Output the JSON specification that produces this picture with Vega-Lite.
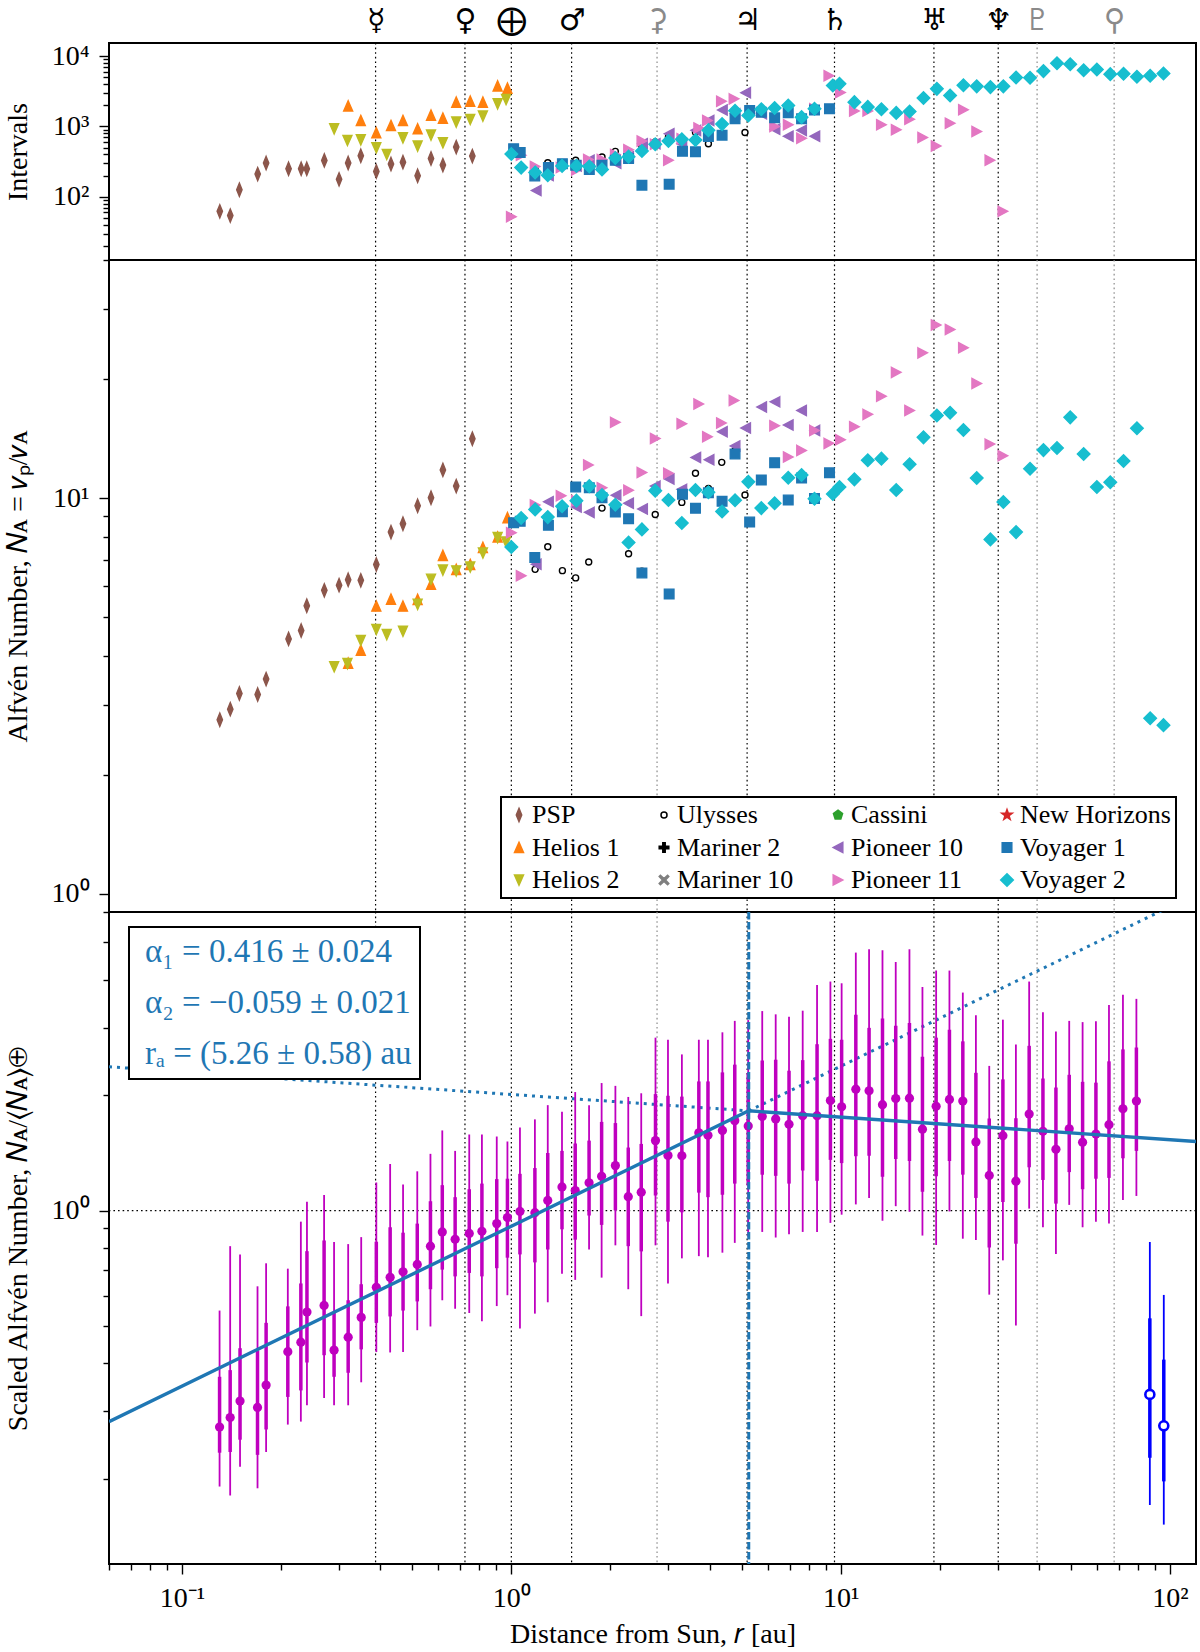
{"$schema":"https://vega.github.io/schema/vega-lite/v6.json","background":"white","padding":{"left":3,"top":4,"right":2,"bottom":5},"spacing":0,"bounds":"flush",
"resolve":{"scale":{"fill":"independent","stroke":"independent","shape":"independent","color":"independent"},"legend":{"fill":"independent","stroke":"independent","shape":"independent","color":"independent"}},
"config":{"view":{"stroke":"black","strokeWidth":2},"font":"Liberation Serif","axis":{"labelFont":"Liberation Serif","titleFont":"Liberation Serif","titleFontWeight":"normal","labelFontSize":28,"titleFontSize":28,"grid":false,"domain":false,"tickColor":"black","tickWidth":1.4,"labelColor":"black","titleColor":"black","labelOverlap":false,"labelBound":false,"labelFlush":false},"legend":{"labelFont":"Liberation Serif","titleFont":"Liberation Serif","strokeWidth":2}},
"datasets":{
"planets":[{"body":"Mercury","r":0.387,"kind":"planet"},{"body":"Venus","r":0.723,"kind":"planet"},{"body":"Earth","r":1,"kind":"planet"},{"body":"Mars","r":1.524,"kind":"planet"},{"body":"Jupiter","r":5.2,"kind":"planet"},{"body":"Saturn","r":9.58,"kind":"planet"},{"body":"Uranus","r":19.2,"kind":"planet"},{"body":"Neptune","r":30.1,"kind":"planet"}],
"dwarfs":[{"body":"Ceres","r":2.77,"kind":"dwarf"},{"body":"Pluto","r":39.5,"kind":"dwarf"},{"body":"Eris","r":67.7,"kind":"dwarf"}],
"scatter":[
{"s":"PSP","r":0.1302,"NA":2.756,"iv":62},{"s":"PSP","r":0.1401,"NA":2.93,"iv":54},{"s":"PSP","r":0.1493,"NA":3.21,"iv":126},{"s":"PSP","r":0.1697,"NA":3.19,"iv":210},{"s":"PSP","r":0.18,"NA":3.49,"iv":302},{"s":"PSP","r":0.2106,"NA":4.41,"iv":250},{"s":"PSP","r":0.23,"NA":4.63,"iv":250},{"s":"PSP","r":0.2392,"NA":5.35,"iv":250},{"s":"PSP","r":0.2704,"NA":5.85,"iv":329},{"s":"PSP","r":0.2998,"NA":6.03,"iv":177},{"s":"PSP","r":0.3195,"NA":6.22,"iv":302},{"s":"PSP","r":0.349,"NA":6.2,"iv":383},{"s":"PSP","r":0.389,"NA":6.8,"iv":229},{"s":"PSP","r":0.431,"NA":8.21,"iv":292},{"s":"PSP","r":0.4686,"NA":8.62,"iv":311},{"s":"PSP","r":0.5193,"NA":9.57,"iv":199},{"s":"PSP","r":0.5702,"NA":10.03,"iv":351},{"s":"PSP","r":0.6196,"NA":11.79,"iv":282},{"s":"PSP","r":0.6802,"NA":10.73,"iv":509},{"s":"PSP","r":0.7613,"NA":14.14,"iv":379},
{"s":"Helios 1","r":0.3195,"NA":3.83,"iv":1966},{"s":"Helios 1","r":0.349,"NA":4.13,"iv":1217},{"s":"Helios 1","r":0.389,"NA":5.34,"iv":813},{"s":"Helios 1","r":0.431,"NA":5.56,"iv":1033},{"s":"Helios 1","r":0.4686,"NA":5.34,"iv":1217},{"s":"Helios 1","r":0.5193,"NA":5.55,"iv":926},{"s":"Helios 1","r":0.5702,"NA":6.06,"iv":1449},{"s":"Helios 1","r":0.6196,"NA":7.17,"iv":1313},{"s":"Helios 1","r":0.6802,"NA":6.61,"iv":2217},{"s":"Helios 1","r":0.7502,"NA":6.8,"iv":2290},{"s":"Helios 1","r":0.8196,"NA":7.51,"iv":2217},{"s":"Helios 1","r":0.9085,"NA":7.98,"iv":3782},{"s":"Helios 1","r":0.9732,"NA":8.93,"iv":3503},
{"s":"Helios 2","r":0.2897,"NA":3.75,"iv":926},{"s":"Helios 2","r":0.3179,"NA":3.82,"iv":633},{"s":"Helios 2","r":0.349,"NA":4.37,"iv":646},{"s":"Helios 2","r":0.389,"NA":4.66,"iv":498},{"s":"Helios 2","r":0.4185,"NA":4.52,"iv":400},{"s":"Helios 2","r":0.4686,"NA":4.61,"iv":690},{"s":"Helios 2","r":0.5193,"NA":5.39,"iv":526},{"s":"Helios 2","r":0.5702,"NA":6.24,"iv":753},{"s":"Helios 2","r":0.6196,"NA":6.58,"iv":586},{"s":"Helios 2","r":0.6802,"NA":6.55,"iv":1152},{"s":"Helios 2","r":0.7502,"NA":6.7,"iv":1257},{"s":"Helios 2","r":0.8196,"NA":7.27,"iv":1402},{"s":"Helios 2","r":0.9085,"NA":7.95,"iv":2099},{"s":"Helios 2","r":0.9636,"NA":7.75,"iv":2418},
{"s":"Ulysses","r":1.181,"NA":6.61,"iv":250},{"s":"Ulysses","r":1.29,"NA":7.54,"iv":305},{"s":"Ulysses","r":1.429,"NA":6.56,"iv":280},{"s":"Ulysses","r":1.568,"NA":6.29,"iv":330},{"s":"Ulysses","r":1.718,"NA":6.9,"iv":270},{"s":"Ulysses","r":1.885,"NA":9.44,"iv":368},{"s":"Ulysses","r":2.069,"NA":9.6,"iv":443},{"s":"Ulysses","r":2.27,"NA":7.24,"iv":400},{"s":"Ulysses","r":2.492,"NA":6.54,"iv":525},{"s":"Ulysses","r":2.735,"NA":9.1,"iv":600},{"s":"Ulysses","r":3.0,"NA":9.9,"iv":707},{"s":"Ulysses","r":3.294,"NA":9.76,"iv":640},{"s":"Ulysses","r":3.624,"NA":11.56,"iv":830},{"s":"Ulysses","r":3.967,"NA":10.59,"iv":568},{"s":"Ulysses","r":4.355,"NA":12.32,"iv":1090},{"s":"Ulysses","r":4.779,"NA":13.2,"iv":1400},{"s":"Ulysses","r":5.123,"NA":10.19,"iv":820},
{"s":"Pioneer 10","r":1.19,"NA":6.81,"iv":123},{"s":"Pioneer 10","r":1.296,"NA":9.8,"iv":200},{"s":"Pioneer 10","r":1.576,"NA":9.5,"iv":275},{"s":"Pioneer 10","r":1.725,"NA":9.21,"iv":330},{"s":"Pioneer 10","r":2.079,"NA":10.17,"iv":300},{"s":"Pioneer 10","r":2.27,"NA":9.71,"iv":370},{"s":"Pioneer 10","r":2.503,"NA":9.39,"iv":568},{"s":"Pioneer 10","r":2.735,"NA":10.73,"iv":568},{"s":"Pioneer 10","r":3.015,"NA":11.18,"iv":788},{"s":"Pioneer 10","r":3.294,"NA":10.53,"iv":568},{"s":"Pioneer 10","r":3.632,"NA":12.68,"iv":880},{"s":"Pioneer 10","r":3.985,"NA":12.51,"iv":1218},{"s":"Pioneer 10","r":4.374,"NA":14.72,"iv":1720},{"s":"Pioneer 10","r":4.779,"NA":13.55,"iv":1515},{"s":"Pioneer 10","r":5.147,"NA":15.04,"iv":3030},{"s":"Pioneer 10","r":5.757,"NA":17.0,"iv":1515},{"s":"Pioneer 10","r":6.318,"NA":17.52,"iv":915},{"s":"Pioneer 10","r":6.933,"NA":15.31,"iv":725},{"s":"Pioneer 10","r":7.61,"NA":16.67,"iv":880},{"s":"Pioneer 10","r":8.35,"NA":14.84,"iv":725},
{"s":"Pioneer 11","r":1.0,"NA":8.18,"iv":52},{"s":"Pioneer 11","r":1.071,"NA":6.37,"iv":390},{"s":"Pioneer 11","r":1.181,"NA":9.61,"iv":270},{"s":"Pioneer 11","r":1.416,"NA":10.15,"iv":260},{"s":"Pioneer 11","r":1.576,"NA":9.86,"iv":240},{"s":"Pioneer 11","r":1.714,"NA":12.13,"iv":338},{"s":"Pioneer 11","r":1.885,"NA":10.63,"iv":338},{"s":"Pioneer 11","r":2.069,"NA":15.55,"iv":400},{"s":"Pioneer 11","r":2.27,"NA":10.47,"iv":467},{"s":"Pioneer 11","r":2.492,"NA":11.61,"iv":620},{"s":"Pioneer 11","r":2.735,"NA":14.16,"iv":558},{"s":"Pioneer 11","r":3.0,"NA":11.56,"iv":330},{"s":"Pioneer 11","r":3.294,"NA":15.43,"iv":670},{"s":"Pioneer 11","r":3.707,"NA":17.3,"iv":950},{"s":"Pioneer 11","r":3.94,"NA":14.3,"iv":1218},{"s":"Pioneer 11","r":4.345,"NA":15.5,"iv":2280},{"s":"Pioneer 11","r":4.745,"NA":17.65,"iv":2470},{"s":"Pioneer 11","r":6.303,"NA":15.25,"iv":1000},{"s":"Pioneer 11","r":6.933,"NA":12.71,"iv":1055},{"s":"Pioneer 11","r":7.61,"NA":13.21,"iv":680},{"s":"Pioneer 11","r":8.33,"NA":14.84,"iv":1785},{"s":"Pioneer 11","r":9.21,"NA":13.76,"iv":5270},{"s":"Pioneer 11","r":9.99,"NA":14.06,"iv":3050},{"s":"Pioneer 11","r":11.01,"NA":15.16,"iv":1660},{"s":"Pioneer 11","r":12.09,"NA":16.29,"iv":1660},{"s":"Pioneer 11","r":13.3,"NA":18.1,"iv":1055},{"s":"Pioneer 11","r":14.75,"NA":20.8,"iv":897},{"s":"Pioneer 11","r":16.2,"NA":16.67,"iv":1272},{"s":"Pioneer 11","r":17.75,"NA":23.3,"iv":698},{"s":"Pioneer 11","r":19.5,"NA":27.4,"iv":526},{"s":"Pioneer 11","r":21.5,"NA":26.7,"iv":1115},{"s":"Pioneer 11","r":23.6,"NA":24.0,"iv":1725},{"s":"Pioneer 11","r":25.9,"NA":19.5,"iv":849},{"s":"Pioneer 11","r":28.4,"NA":13.7,"iv":332},{"s":"Pioneer 11","r":31.1,"NA":12.8,"iv":62},
{"s":"Voyager 1","r":1.016,"NA":8.67,"iv":483},{"s":"Voyager 1","r":1.064,"NA":8.74,"iv":428},{"s":"Voyager 1","r":1.178,"NA":7.08,"iv":197},{"s":"Voyager 1","r":1.296,"NA":8.54,"iv":260},{"s":"Voyager 1","r":1.429,"NA":9.24,"iv":296},{"s":"Voyager 1","r":1.568,"NA":10.67,"iv":281},{"s":"Voyager 1","r":1.725,"NA":10.63,"iv":245},{"s":"Voyager 1","r":1.885,"NA":10.03,"iv":281},{"s":"Voyager 1","r":2.069,"NA":9.23,"iv":330},{"s":"Voyager 1","r":2.27,"NA":8.88,"iv":349},{"s":"Voyager 1","r":2.492,"NA":6.47,"iv":146},{"s":"Voyager 1","r":3.015,"NA":5.73,"iv":151},{"s":"Voyager 1","r":3.309,"NA":10.23,"iv":443},{"s":"Voyager 1","r":3.624,"NA":9.43,"iv":438},{"s":"Voyager 1","r":3.967,"NA":10.33,"iv":722},{"s":"Voyager 1","r":4.365,"NA":9.82,"iv":750},{"s":"Voyager 1","r":4.779,"NA":12.93,"iv":1285},{"s":"Voyager 1","r":5.293,"NA":8.71,"iv":1689},{"s":"Voyager 1","r":5.743,"NA":11.12,"iv":1590},{"s":"Voyager 1","r":6.303,"NA":12.3,"iv":1330},{"s":"Voyager 1","r":6.933,"NA":9.9,"iv":1570},{"s":"Voyager 1","r":7.61,"NA":11.25,"iv":1285},{"s":"Voyager 1","r":8.33,"NA":9.99,"iv":1720},{"s":"Voyager 1","r":9.25,"NA":11.6,"iv":1790},
{"s":"Voyager 2","r":1.0,"NA":7.53,"iv":405},{"s":"Voyager 2","r":1.071,"NA":8.91,"iv":260},{"s":"Voyager 2","r":1.181,"NA":9.37,"iv":222},{"s":"Voyager 2","r":1.29,"NA":8.96,"iv":202},{"s":"Voyager 2","r":1.426,"NA":9.54,"iv":275},{"s":"Voyager 2","r":1.576,"NA":9.86,"iv":275},{"s":"Voyager 2","r":1.725,"NA":10.73,"iv":270},{"s":"Voyager 2","r":1.885,"NA":10.19,"iv":245},{"s":"Voyager 2","r":2.069,"NA":9.63,"iv":356},{"s":"Voyager 2","r":2.27,"NA":7.73,"iv":372},{"s":"Voyager 2","r":2.492,"NA":8.34,"iv":448},{"s":"Voyager 2","r":2.735,"NA":10.45,"iv":558},{"s":"Voyager 2","r":3.0,"NA":9.9,"iv":620},{"s":"Voyager 2","r":3.294,"NA":8.66,"iv":657},{"s":"Voyager 2","r":3.624,"NA":10.49,"iv":643},{"s":"Voyager 2","r":3.967,"NA":10.35,"iv":887},{"s":"Voyager 2","r":4.365,"NA":9.26,"iv":1080},{"s":"Voyager 2","r":4.779,"NA":9.88,"iv":1670},{"s":"Voyager 2","r":5.245,"NA":11.0,"iv":1435},{"s":"Voyager 2","r":5.743,"NA":9.44,"iv":1760},{"s":"Voyager 2","r":6.303,"NA":9.71,"iv":1830},{"s":"Voyager 2","r":6.933,"NA":11.27,"iv":1990},{"s":"Voyager 2","r":7.61,"NA":11.45,"iv":1358},{"s":"Voyager 2","r":8.33,"NA":9.97,"iv":1785},{"s":"Voyager 2","r":9.47,"NA":10.25,"iv":3820},{"s":"Voyager 2","r":9.92,"NA":10.67,"iv":4037},{"s":"Voyager 2","r":11.01,"NA":11.16,"iv":2220},{"s":"Voyager 2","r":12.09,"NA":12.47,"iv":1900},{"s":"Voyager 2","r":13.3,"NA":12.59,"iv":1760},{"s":"Voyager 2","r":14.75,"NA":10.49,"iv":1560},{"s":"Voyager 2","r":16.2,"NA":12.18,"iv":1630},{"s":"Voyager 2","r":17.85,"NA":14.25,"iv":2545},{"s":"Voyager 2","r":19.6,"NA":16.19,"iv":3430},{"s":"Voyager 2","r":21.5,"NA":16.45,"iv":2760},{"s":"Voyager 2","r":23.6,"NA":14.87,"iv":3850},{"s":"Voyager 2","r":25.9,"NA":11.25,"iv":3720},{"s":"Voyager 2","r":28.5,"NA":7.87,"iv":3630},{"s":"Voyager 2","r":31.2,"NA":9.78,"iv":3720},{"s":"Voyager 2","r":34.1,"NA":8.21,"iv":4980},{"s":"Voyager 2","r":37.6,"NA":11.87,"iv":4925},{"s":"Voyager 2","r":41.3,"NA":13.23,"iv":6130},{"s":"Voyager 2","r":45.4,"NA":13.39,"iv":7940},{"s":"Voyager 2","r":49.8,"NA":16.01,"iv":7690},{"s":"Voyager 2","r":54.7,"NA":12.93,"iv":6320},{"s":"Voyager 2","r":60.0,"NA":10.67,"iv":6460},{"s":"Voyager 2","r":65.9,"NA":10.97,"iv":5550},{"s":"Voyager 2","r":72.3,"NA":12.42,"iv":5610},{"s":"Voyager 2","r":79.4,"NA":15.02,"iv":5090},{"s":"Voyager 2","r":87.1,"NA":2.78,"iv":5260},{"s":"Voyager 2","r":95.6,"NA":2.67,"iv":5670}],
"bins":[
{"r":0.13,"n":0.273,"a":0.191,"b":0.549,"c":0.234,"d":0.369},{"r":0.14,"n":0.289,"a":0.181,"b":0.808,"c":0.235,"d":0.384},{"r":0.15,"n":0.319,"a":0.215,"b":0.769,"c":0.253,"d":0.438},{"r":0.1695,"n":0.307,"a":0.189,"b":0.635,"c":0.231,"d":0.432},{"r":0.18,"n":0.351,"a":0.235,"b":0.729,"c":0.269,"d":0.51},{"r":0.2095,"n":0.429,"a":0.277,"b":0.706,"c":0.327,"d":0.563},{"r":0.2295,"n":0.454,"a":0.282,"b":0.936,"c":0.34,"d":0.646},{"r":0.2395,"n":0.544,"a":0.311,"b":1.055,"c":0.402,"d":0.784},{"r":0.27,"n":0.566,"a":0.325,"b":1.098,"c":0.42,"d":0.836},{"r":0.2895,"n":0.433,"a":0.311,"b":0.828,"c":0.369,"d":0.545},{"r":0.3195,"n":0.468,"a":0.311,"b":0.818,"c":0.378,"d":0.584},{"r":0.35,"n":0.527,"a":0.357,"b":0.853,"c":0.435,"d":0.643},{"r":0.389,"n":0.631,"a":0.428,"b":1.184,"c":0.51,"d":0.83},{"r":0.4285,"n":0.67,"a":0.427,"b":1.323,"c":0.53,"d":0.905},{"r":0.469,"n":0.693,"a":0.428,"b":1.17,"c":0.549,"d":0.876},{"r":0.518,"n":0.724,"a":0.488,"b":1.266,"c":0.58,"d":0.925},{"r":0.568,"n":0.808,"a":0.499,"b":1.406,"c":0.624,"d":1.058},{"r":0.617,"n":0.88,"a":0.584,"b":1.618,"c":0.702,"d":1.165},{"r":0.675,"n":0.842,"a":0.555,"b":1.431,"c":0.674,"d":1.084},{"r":0.745,"n":0.872,"a":0.541,"b":1.579,"c":0.688,"d":1.137},{"r":0.814,"n":0.883,"a":0.515,"b":1.579,"c":0.674,"d":1.176},{"r":0.903,"n":0.925,"a":0.564,"b":1.56,"c":0.708,"d":1.208},{"r":0.973,"n":0.959,"a":0.602,"b":1.514,"c":0.754,"d":1.211},{"r":1.062,"n":0.995,"a":0.493,"b":1.646,"c":0.769,"d":1.247},{"r":1.179,"n":0.988,"a":0.539,"b":1.729,"c":0.733,"d":1.291},{"r":1.29,"n":1.063,"a":0.577,"b":1.883,"c":0.792,"d":1.413},{"r":1.425,"n":1.153,"a":0.685,"b":1.811,"c":0.894,"d":1.431},{"r":1.563,"n":1.128,"a":0.66,"b":2.037,"c":0.84,"d":1.496},{"r":1.722,"n":1.182,"a":0.792,"b":1.883,"c":0.971,"d":1.522},{"r":1.88,"n":1.229,"a":0.669,"b":2.15,"c":0.918,"d":1.703},{"r":2.07,"n":1.31,"a":0.812,"b":2.114,"c":1.002,"d":1.691},{"r":2.265,"n":1.087,"a":0.624,"b":1.978,"c":0.808,"d":1.46},{"r":2.48,"n":1.117,"a":0.531,"b":2.022,"c":0.783,"d":1.492},{"r":2.74,"n":1.522,"a":0.812,"b":2.823,"c":1.095,"d":2.012},{"r":2.99,"n":1.393,"a":0.646,"b":2.788,"c":0.936,"d":1.992},{"r":3.295,"n":1.39,"a":0.751,"b":2.553,"c":0.99,"d":1.982},{"r":3.71,"n":1.595,"a":0.761,"b":2.788,"c":1.114,"d":2.171},{"r":3.955,"n":1.571,"a":0.756,"b":2.788,"c":1.084,"d":2.171},{"r":4.375,"n":1.618,"a":0.777,"b":2.915,"c":1.1,"d":2.292},{"r":4.77,"n":1.716,"a":0.824,"b":3.122,"c":1.176,"d":2.401},{"r":5.24,"n":1.662,"a":0.855,"b":3.137,"c":1.162,"d":2.281},{"r":5.78,"n":1.758,"a":0.88,"b":3.311,"c":1.241,"d":2.461},{"r":6.35,"n":1.733,"a":0.851,"b":3.247,"c":1.232,"d":2.473},{"r":6.97,"n":1.678,"a":0.868,"b":3.199,"c":1.176,"d":2.315},{"r":7.67,"n":1.768,"a":0.88,"b":3.319,"c":1.272,"d":2.467},{"r":8.48,"n":1.768,"a":0.88,"b":3.873,"c":1.196,"d":2.714},{"r":9.31,"n":1.935,"a":0.929,"b":3.953,"c":1.356,"d":2.803},{"r":10.07,"n":1.865,"a":0.976,"b":3.912,"c":1.33,"d":2.788},{"r":11.12,"n":2.072,"a":1.038,"b":4.703,"c":1.386,"d":3.239},{"r":12.2,"n":2.052,"a":1.079,"b":4.796,"c":1.39,"d":2.994},{"r":13.4,"n":1.888,"a":0.941,"b":4.773,"c":1.226,"d":3.168},{"r":14.7,"n":1.959,"a":1.027,"b":4.445,"c":1.363,"d":3.031},{"r":16.18,"n":1.963,"a":0.993,"b":4.796,"c":1.346,"d":3.084},{"r":17.72,"n":1.63,"a":0.861,"b":3.826,"c":1.12,"d":2.516},{"r":19.5,"n":1.87,"a":0.814,"b":4.222,"c":1.229,"d":2.823},{"r":21.4,"n":1.949,"a":0.995,"b":4.222,"c":1.346,"d":2.958},{"r":23.5,"n":1.93,"a":0.845,"b":3.7,"c":1.241,"d":2.761},{"r":25.75,"n":1.51,"a":0.838,"b":3.231,"c":1.079,"d":2.286},{"r":28.27,"n":1.235,"a":0.604,"b":2.383,"c":0.802,"d":1.737},{"r":31.1,"n":1.568,"a":0.742,"b":3.145,"c":1.053,"d":2.198},{"r":34.06,"n":1.193,"a":0.502,"b":2.708,"c":0.82,"d":1.741},{"r":37.37,"n":1.785,"a":1.012,"b":3.953,"c":1.297,"d":2.688},{"r":41.15,"n":1.61,"a":0.905,"b":3.287,"c":1.202,"d":2.209},{"r":45.06,"n":1.445,"a":0.771,"b":2.93,"c":1.043,"d":2.093},{"r":49.45,"n":1.634,"a":1.035,"b":3.122,"c":1.26,"d":2.259},{"r":54.3,"n":1.507,"a":0.905,"b":3.099,"c":1.137,"d":2.166},{"r":59.6,"n":1.583,"a":0.936,"b":3.114,"c":1.211,"d":2.155},{"r":65.3,"n":1.675,"a":0.925,"b":3.435,"c":1.217,"d":2.449},{"r":72.0,"n":1.842,"a":1.066,"b":3.653,"c":1.369,"d":2.631},{"r":79.1,"n":1.93,"a":1.092,"b":3.563,"c":1.431,"d":2.661}],
"outer":[{"r":86.9,"n":0.332,"a":0.171,"b":0.828,"c":0.227,"d":0.524},{"r":95.8,"n":0.275,"a":0.152,"b":0.603,"c":0.197,"d":0.409}],
"fit":[{"r":0.06,"n":0.282},{"r":5.26,"n":1.82},{"r":120,"n":1.514}],
"fitdot1":[{"r":5.26,"n":1.82},{"r":120,"n":6.68}],
"fitdot2":[{"r":0.06,"n":2.37},{"r":5.26,"n":1.82}],
"ra":[{"r":5.26}],
"unity":[{"n":1}],
"stats":[{"t":"α₁ = 0.416 ± 0.024"},{"t":"α₂ = −0.059 ± 0.021"},{"t":"rₐ = (5.26 ± 0.58) au"}]
},
"vconcat":[
{"width":1087,"height":217,"layer":[
{"data":{"name":"planets"},"mark":{"type":"rule","color":"black","strokeWidth":1.2,"strokeDash":[1.6,3]},"encoding":{"x":{"field":"r","type":"quantitative","scale":{"type":"log","domain":[0.06,120]},"axis":{"orient":"top","title":null,"ticks":false,"values":[0.387,0.723,1,1.524,2.77,5.2,9.58,19.2,30.1,39.5,67.7],"labelFont":"DejaVu Sans","labelFontSize":30,"labelPadding":8,"labelExpr":"datum.value<0.5?'☿':datum.value<0.9?'♀':datum.value<1.2?'⨁':datum.value<2?'♂':datum.value<3?'⚳':datum.value<6?'♃':datum.value<10?'♄':datum.value<20?'♅':datum.value<35?'♆':datum.value<50?'♇':'⚲'","labelColor":{"expr":"(datum.value>2&&datum.value<3)||datum.value>35?'#8a8a8a':'black'"}}}}},
{"data":{"name":"dwarfs"},"mark":{"type":"rule","color":"#8a8a8a","strokeWidth":1.2,"strokeDash":[1.6,3]},"encoding":{"x":{"field":"r","type":"quantitative","scale":{"type":"log","domain":[0.06,120]}}}},
{"data":{"name":"scatter"},"mark":{"type":"point","opacity":1,"strokeWidth":1.4,"size":144},"encoding":{
"x":{"field":"r","type":"quantitative","scale":{"type":"log","domain":[0.06,120]}},
"y":{"field":"iv","type":"quantitative","scale":{"type":"log","domain":[12.6,15400]},"axis":{"title":"Intervals","titleX":-76.5,"values":[20,30,40,50,60,70,80,90,100,200,300,400,500,600,700,800,900,1000,2000,3000,4000,5000,6000,7000,8000,9000,10000],"labelExpr":"datum.value==10000?'10⁴':datum.value==1000?'10³':datum.value==100?'10²':''","labelPadding":10,"tickSize":{"condition":{"test":"datum.value==100||datum.value==1000||datum.value==10000","value":10},"value":6}}},
"fill":{"field":"s","type":"nominal","legend":null,"scale":{"domain":["PSP","Helios 1","Helios 2","Ulysses","Mariner 2","Mariner 10","Cassini","Pioneer 10","Pioneer 11","New Horizons","Voyager 1","Voyager 2"],"range":["#8c564b","#ff7f0e","#bcbd22","#ffffff","#000000","#7f7f7f","#2ca02c","#9467bd","#e377c2","#d62728","#1f77b4","#17becf"]}},
"stroke":{"field":"s","type":"nominal","legend":null,"scale":{"domain":["PSP","Helios 1","Helios 2","Ulysses","Mariner 2","Mariner 10","Cassini","Pioneer 10","Pioneer 11","New Horizons","Voyager 1","Voyager 2"],"range":["#8c564b","#ff7f0e","#bcbd22","#000000","#000000","#7f7f7f","#2ca02c","#9467bd","#e377c2","#d62728","#1f77b4","#17becf"]}},
"shape":{"field":"s","type":"nominal","legend":null,"scale":{"domain":["PSP","Helios 1","Helios 2","Ulysses","Mariner 2","Mariner 10","Cassini","Pioneer 10","Pioneer 11","New Horizons","Voyager 1","Voyager 2"],"range":["M0,-1.1L0.45,0L0,1.1L-0.45,0Z","M0,-0.85L0.75,0.85L-0.75,0.85Z","M0,0.85L0.75,-0.85L-0.75,-0.85Z","M-0.5,0A0.5,0.5 0 1,0 0.5,0A0.5,0.5 0 1,0 -0.5,0Z","M-0.2,-0.8H0.2V-0.2H0.8V0.2H0.2V0.8H-0.2V0.2H-0.8V-0.2H-0.2Z","M-0.6,-0.8L0,-0.25L0.6,-0.8L0.8,-0.6L0.25,0L0.8,0.6L0.6,0.8L0,0.25L-0.6,0.8L-0.8,0.6L-0.25,0L-0.8,-0.6Z","M0,-0.8L0.76,-0.25L0.47,0.65L-0.47,0.65L-0.76,-0.25Z","M0.8,-0.85L-0.8,0L0.8,0.85Z","M-0.8,-0.85L0.8,0L-0.8,0.85Z","M0,-0.9L0.22,-0.28L0.86,-0.28L0.34,0.1L0.53,0.72L0,0.35L-0.53,0.72L-0.34,0.1L-0.86,-0.28L-0.22,-0.28Z","M-0.8,-0.8H0.8V0.8H-0.8Z","M0,-1.05L1.05,0L0,1.05L-1.05,0Z"]}}}}
]},
{"width":1087,"height":652,"layer":[
{"data":{"name":"planets"},"mark":{"type":"rule","color":"black","strokeWidth":1.2,"strokeDash":[1.6,3]},"encoding":{"x":{"field":"r","type":"quantitative","scale":{"type":"log","domain":[0.06,120]},"axis":null}}},
{"data":{"name":"dwarfs"},"mark":{"type":"rule","color":"#8a8a8a","strokeWidth":1.2,"strokeDash":[1.6,3]},"encoding":{"x":{"field":"r","type":"quantitative","scale":{"type":"log","domain":[0.06,120]},"axis":null}}},
{"data":{"name":"scatter"},"mark":{"type":"point","opacity":1,"strokeWidth":1.4,"size":144},"encoding":{
"x":{"field":"r","type":"quantitative","scale":{"type":"log","domain":[0.06,120]},"axis":null},
"y":{"field":"NA","type":"quantitative","scale":{"type":"log","domain":[0.9,40]},"axis":{"title":"Alfvén Number, 𝑁ᴀ = 𝑣ₚ/𝑣ᴀ","titleX":-76.5,"values":[0.9,1,2,3,4,5,6,7,8,9,10,20,30,40],"labelExpr":"datum.value==10?'10¹':datum.value==1?'10⁰':''","labelPadding":10,"tickSize":{"condition":{"test":"datum.value==1||datum.value==10","value":10},"value":6}}},
"fill":{"field":"s","type":"nominal","legend":{"title":null,"orient":"none","legendX":392,"legendY":537,"columns":4,"fillColor":"white","strokeColor":"black","padding":5,"labelFontSize":26,"labelColor":"black","symbolSize":144,"rowPadding":6.5,"columnPadding":31,"labelOffset":0,"symbolOpacity":1,"labelLimit":200},"scale":{"domain":["PSP","Helios 1","Helios 2","Ulysses","Mariner 2","Mariner 10","Cassini","Pioneer 10","Pioneer 11","New Horizons","Voyager 1","Voyager 2"],"range":["#8c564b","#ff7f0e","#bcbd22","#ffffff","#000000","#7f7f7f","#2ca02c","#9467bd","#e377c2","#d62728","#1f77b4","#17becf"]}},
"stroke":{"field":"s","type":"nominal","scale":{"domain":["PSP","Helios 1","Helios 2","Ulysses","Mariner 2","Mariner 10","Cassini","Pioneer 10","Pioneer 11","New Horizons","Voyager 1","Voyager 2"],"range":["#8c564b","#ff7f0e","#bcbd22","#000000","#000000","#7f7f7f","#2ca02c","#9467bd","#e377c2","#d62728","#1f77b4","#17becf"]}},
"shape":{"field":"s","type":"nominal","scale":{"domain":["PSP","Helios 1","Helios 2","Ulysses","Mariner 2","Mariner 10","Cassini","Pioneer 10","Pioneer 11","New Horizons","Voyager 1","Voyager 2"],"range":["M0,-1.1L0.45,0L0,1.1L-0.45,0Z","M0,-0.85L0.75,0.85L-0.75,0.85Z","M0,0.85L0.75,-0.85L-0.75,-0.85Z","M-0.5,0A0.5,0.5 0 1,0 0.5,0A0.5,0.5 0 1,0 -0.5,0Z","M-0.2,-0.8H0.2V-0.2H0.8V0.2H0.2V0.8H-0.2V0.2H-0.8V-0.2H-0.2Z","M-0.6,-0.8L0,-0.25L0.6,-0.8L0.8,-0.6L0.25,0L0.8,0.6L0.6,0.8L0,0.25L-0.6,0.8L-0.8,0.6L-0.25,0L-0.8,-0.6Z","M0,-0.8L0.76,-0.25L0.47,0.65L-0.47,0.65L-0.76,-0.25Z","M0.8,-0.85L-0.8,0L0.8,0.85Z","M-0.8,-0.85L0.8,0L-0.8,0.85Z","M0,-0.9L0.22,-0.28L0.86,-0.28L0.34,0.1L0.53,0.72L0,0.35L-0.53,0.72L-0.34,0.1L-0.86,-0.28L-0.22,-0.28Z","M-0.8,-0.8H0.8V0.8H-0.8Z","M0,-1.05L1.05,0L0,1.05L-1.05,0Z"]}}}}
]},
{"width":1087,"height":652,"layer":[
{"data":{"name":"planets"},"mark":{"type":"rule","color":"black","strokeWidth":1.2,"strokeDash":[1.6,3]},"encoding":{"x":{"field":"r","type":"quantitative","scale":{"type":"log","domain":[0.06,120]},"axis":{"title":"Distance from Sun, 𝑟 [au]","values":[0.06,0.07,0.08,0.09,0.1,0.2,0.3,0.4,0.5,0.6,0.7,0.8,0.9,1,2,3,4,5,6,7,8,9,10,20,30,40,50,60,70,80,90,100],"labelExpr":"datum.value==0.1?'10⁻¹':datum.value==1?'10⁰':datum.value==10?'10¹':datum.value==100?'10²':''","labelPadding":10,"titlePadding":8,"tickSize":{"condition":{"test":"datum.value==0.1||datum.value==1||datum.value==10||datum.value==100","value":10},"value":6}}}}},
{"data":{"name":"dwarfs"},"mark":{"type":"rule","color":"#8a8a8a","strokeWidth":1.2,"strokeDash":[1.6,3]},"encoding":{"x":{"field":"r","type":"quantitative","scale":{"type":"log","domain":[0.06,120]}}}},
{"data":{"name":"unity"},"mark":{"type":"rule","color":"black","strokeWidth":1.2,"strokeDash":[1.6,3]},"encoding":{"y":{"field":"n","type":"quantitative","scale":{"type":"log","domain":[0.12,6]},"axis":{"title":"Scaled Alfvén Number, 𝑁ᴀ/⟨𝑁ᴀ⟩⊕","titleX":-76.5,"values":[0.2,0.3,0.4,0.5,0.6,0.7,0.8,0.9,1,2,3,4,5],"labelExpr":"datum.value==1?'10⁰':''","labelPadding":10,"tickSize":{"condition":{"test":"datum.value==1","value":10},"value":6}}}}},
{"data":{"name":"fitdot1"},"mark":{"type":"line","color":"#1f77b4","strokeWidth":3,"strokeDash":[3,5],"clip":true},"encoding":{"x":{"field":"r","type":"quantitative","scale":{"type":"log","domain":[0.06,120]}},"y":{"field":"n","type":"quantitative","scale":{"type":"log","domain":[0.12,6]}}}},
{"data":{"name":"fitdot2"},"mark":{"type":"line","color":"#1f77b4","strokeWidth":3,"strokeDash":[3,5],"clip":true},"encoding":{"x":{"field":"r","type":"quantitative","scale":{"type":"log","domain":[0.06,120]}},"y":{"field":"n","type":"quantitative","scale":{"type":"log","domain":[0.12,6]}}}},
{"data":{"name":"bins"},"mark":{"type":"rule","color":"#bf00bf","strokeWidth":1.8},"encoding":{"x":{"field":"r","type":"quantitative","scale":{"type":"log","domain":[0.06,120]}},"y":{"field":"a","type":"quantitative","scale":{"type":"log","domain":[0.12,6]}},"y2":{"field":"b"}}},
{"data":{"name":"bins"},"mark":{"type":"rule","color":"#bf00bf","strokeWidth":3.5},"encoding":{"x":{"field":"r","type":"quantitative","scale":{"type":"log","domain":[0.06,120]}},"y":{"field":"c","type":"quantitative","scale":{"type":"log","domain":[0.12,6]}},"y2":{"field":"d"}}},
{"data":{"name":"bins"},"mark":{"type":"point","filled":true,"opacity":1,"color":"#bf00bf","size":85},"encoding":{"x":{"field":"r","type":"quantitative","scale":{"type":"log","domain":[0.06,120]}},"y":{"field":"n","type":"quantitative","scale":{"type":"log","domain":[0.12,6]}}}},
{"data":{"name":"outer"},"mark":{"type":"rule","color":"#0000ff","strokeWidth":1.8},"encoding":{"x":{"field":"r","type":"quantitative","scale":{"type":"log","domain":[0.06,120]}},"y":{"field":"a","type":"quantitative","scale":{"type":"log","domain":[0.12,6]}},"y2":{"field":"b"}}},
{"data":{"name":"outer"},"mark":{"type":"rule","color":"#0000ff","strokeWidth":3.5},"encoding":{"x":{"field":"r","type":"quantitative","scale":{"type":"log","domain":[0.06,120]}},"y":{"field":"c","type":"quantitative","scale":{"type":"log","domain":[0.12,6]}},"y2":{"field":"d"}}},
{"data":{"name":"outer"},"mark":{"type":"point","filled":false,"opacity":1,"fill":"white","stroke":"#0000ff","strokeWidth":2.6,"size":81},"encoding":{"x":{"field":"r","type":"quantitative","scale":{"type":"log","domain":[0.06,120]}},"y":{"field":"n","type":"quantitative","scale":{"type":"log","domain":[0.12,6]}}}},
{"data":{"name":"fit"},"mark":{"type":"line","color":"#1f77b4","strokeWidth":3.4,"clip":true},"encoding":{"x":{"field":"r","type":"quantitative","scale":{"type":"log","domain":[0.06,120]}},"y":{"field":"n","type":"quantitative","scale":{"type":"log","domain":[0.12,6]}}}},
{"data":{"name":"ra"},"mark":{"type":"rule","color":"#1f77b4","strokeWidth":3,"strokeDash":[7.5,2.5]},"encoding":{"x":{"field":"r","type":"quantitative","scale":{"type":"log","domain":[0.06,120]}}}},
{"data":{"name":"stats"},"mark":{"type":"point","opacity":0},"encoding":{"color":{"field":"t","type":"nominal","sort":null,"scale":{"range":["#1f77b4","#1f77b4","#1f77b4"]},"legend":{"title":null,"orient":"none","legendX":20,"legendY":15,"fillColor":"white","strokeColor":"black","padding":8,"labelFontSize":33,"labelColor":"#1f77b4","symbolSize":0,"symbolOpacity":0,"symbolStrokeWidth":0,"rowPadding":17,"labelOffset":-25,"labelLimit":400}}}}
]}
]}
